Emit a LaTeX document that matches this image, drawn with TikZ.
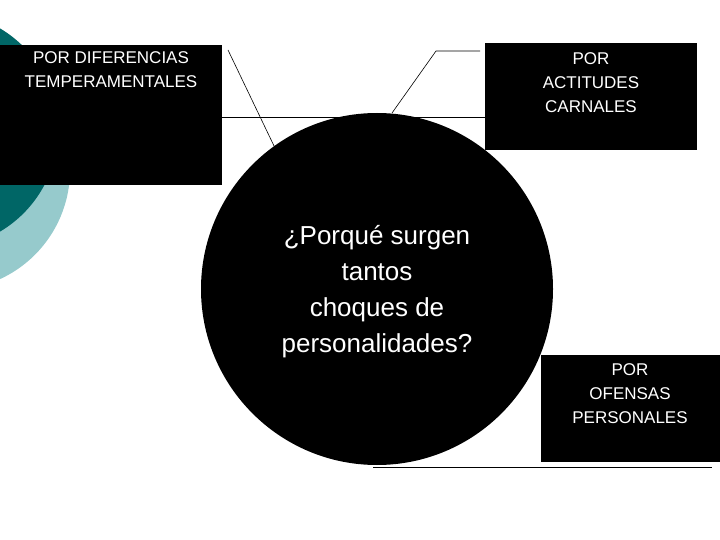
\documentclass[tikz,border=0pt]{standalone}
\usepackage{fontspec}
\setmainfont{Liberation Sans}
\begin{document}
\begin{tikzpicture}[x=1pt,y=-1pt,
  box/.style={fill=black,text=white,inner sep=0pt},
  lab/.style={text=white,align=center,font=\fontsize{17}{24}\selectfont},
  ln/.style={draw=black,line width=0.6pt}]
\useasboundingbox (0,0) rectangle (720,540);
\begin{scope}
\clip (0,0) rectangle (720,540);
\fill[fill={rgb,255:red,150;green,202;blue,204}] (-50,170) circle (120);
\fill[fill={rgb,255:red,0;green,102;blue,102}] (-60,130) circle (118);
\end{scope}
\fill[black] (0,45) rectangle (222,185);
\node[lab] (l1) at (111,70) {POR DIFERENCIAS\\TEMPERAMENTALES};
\fill[black] (485,43) rectangle (697,150);
\node[lab] (l2) at (591,83) {POR\\ACTITUDES\\CARNALES};
\fill[black] (541,355) rectangle (720,462);
\node[lab] (l3) at (630,394) {POR\\OFENSAS\\PERSONALES};
\draw[ln,line width=1pt] (222,118) -- (485,118);
\draw[ln] (228,50) -- (275,148);
\draw[ln] (392,113) -- (436,51) -- (480,51);
\draw[ln] (373,467) -- (712,467);
\node[circle,fill=black,minimum size=352pt,inner sep=0pt] (c) at (377,289) {};
\node[text=white,align=center,font=\fontsize{26}{36}\selectfont] (t) at (377,292) {¿Porqué surgen\\tantos\\choques de\\personalidades?};
\end{tikzpicture}
\end{document}
